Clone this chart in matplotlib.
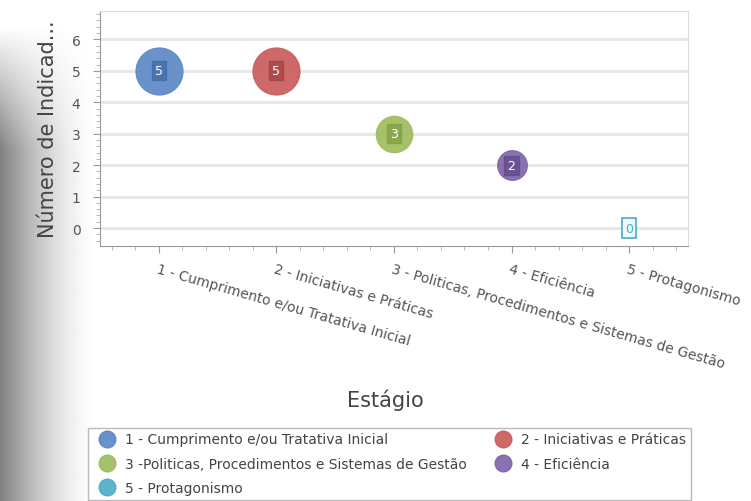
import numpy as np
import matplotlib
matplotlib.use("Agg")
import matplotlib.pyplot as plt
from matplotlib.ticker import MultipleLocator

# data
estagios = [1, 2, 3, 4, 5]
indicadores = [5, 5, 3, 2, 0]
nomes = ['1 - Cumprimento e/ou Tratativa Inicial',
         '2 - Iniciativas e Práticas',
         '3 - Politicas, Procedimentos e Sistemas de Gestão',
         '4 - Eficiência',
         '5 - Protagonismo']
legenda = ['1 - Cumprimento e/ou Tratativa Inicial',
           '2 - Iniciativas e Práticas',
           '3 -Politicas, Procedimentos e Sistemas de Gestão',
           '4 - Eficiência',
           '5 - Protagonismo']
cores = ['#5a86c5', '#c9595a', '#9bbb59', '#7d62a6', '#4bacc6']
bordas = ['#3d68a8', '#a63d3d', '#7f9d40', '#5f4888', '#3a95ad']

fig = plt.figure(figsize=(7.51, 5.02), dpi=100)

# grey shading on the left edge of the screenshot
bg = fig.add_axes([0, 0, 0.13, 1], zorder=-5)
xx = np.linspace(0, 1, 100)
yy = np.linspace(0, 1, 100)
X, Y = np.meshgrid(xx, yy)
shade = (1 - X) ** 1.6 * np.clip((Y - 0.05) / 0.25, 0, 1)
bg.imshow(1 - 0.5 * shade, cmap='gray', vmin=0, vmax=1, aspect='auto',
          extent=[0, 1, 1, 0])
bg.axis('off')

ax = fig.add_axes([0.133, 0.508, 0.783, 0.468])
ax.set_facecolor('white')

for i in range(len(estagios)):
    ax.scatter(estagios[i], indicadores[i], s=indicadores[i] * 230,
               color=cores[i], alpha=0.9, edgecolors=cores[i],
               linewidths=0.8, zorder=3)
    if indicadores[i] > 0:
        ax.text(estagios[i], indicadores[i], str(indicadores[i]),
                ha='center', va='center', fontsize=9, color='white',
                zorder=4,
                bbox=dict(boxstyle='square,pad=0.25', facecolor=bordas[i],
                          edgecolor=bordas[i], alpha=0.7, linewidth=1))
    else:
        ax.text(estagios[i], indicadores[i], str(indicadores[i]),
                ha='center', va='center', fontsize=9, color=cores[i],
                zorder=4,
                bbox=dict(boxstyle='square,pad=0.25', facecolor='#eef8fb',
                          edgecolor=cores[i], linewidth=1.2))

ax.set_xlim(0.5, 5.5)
ax.set_ylim(-0.57, 6.9)
ax.set_xticks(estagios)
ax.set_xticklabels(nomes, rotation=-16, ha='left', rotation_mode='anchor',
                   fontsize=10, color='#555555')
ax.set_yticks(range(0, 7))
ax.tick_params(axis='y', labelsize=10, colors='#555555', pad=9)
ax.xaxis.set_minor_locator(MultipleLocator(0.2))
ax.yaxis.set_minor_locator(MultipleLocator(0.2))
ax.tick_params(which='major', length=5, color='#999999')
ax.tick_params(which='minor', length=3, color='#aaaaaa')
ax.tick_params(axis='x', pad=6)

ax.grid(axis='y', color='#e6e6e6', linewidth=2)
ax.set_axisbelow(True)
for sp in ax.spines.values():
    sp.set_color('#dddddd')
ax.spines['bottom'].set_color('#999999')
ax.spines['left'].set_color('#999999')

ax.set_ylabel('Número de Indicad...', fontsize=15, color='#444444', labelpad=10)
fig.text(0.513, 0.19, 'Estágio', fontsize=15, color='#444444', ha='center')

# legend filled row by row: (1, 2), (3, 4), (5)
ordem = [0, 2, 4, 1, 3]
handles = [plt.Line2D([], [], marker='o', linestyle='', markersize=12,
                      markerfacecolor=cores[i], markeredgecolor=cores[i],
                      alpha=0.9) for i in ordem]
fig.legend(handles, [legenda[i] for i in ordem], loc='upper left',
           bbox_to_anchor=(0.108, 0.16), ncol=2, fontsize=10, frameon=True,
           edgecolor='#aaaaaa', fancybox=False, handletextpad=0.3,
           columnspacing=1.6, labelspacing=0.75, borderpad=0.35,
           labelcolor='#444444')

fig.savefig('out.png', dpi=100)
